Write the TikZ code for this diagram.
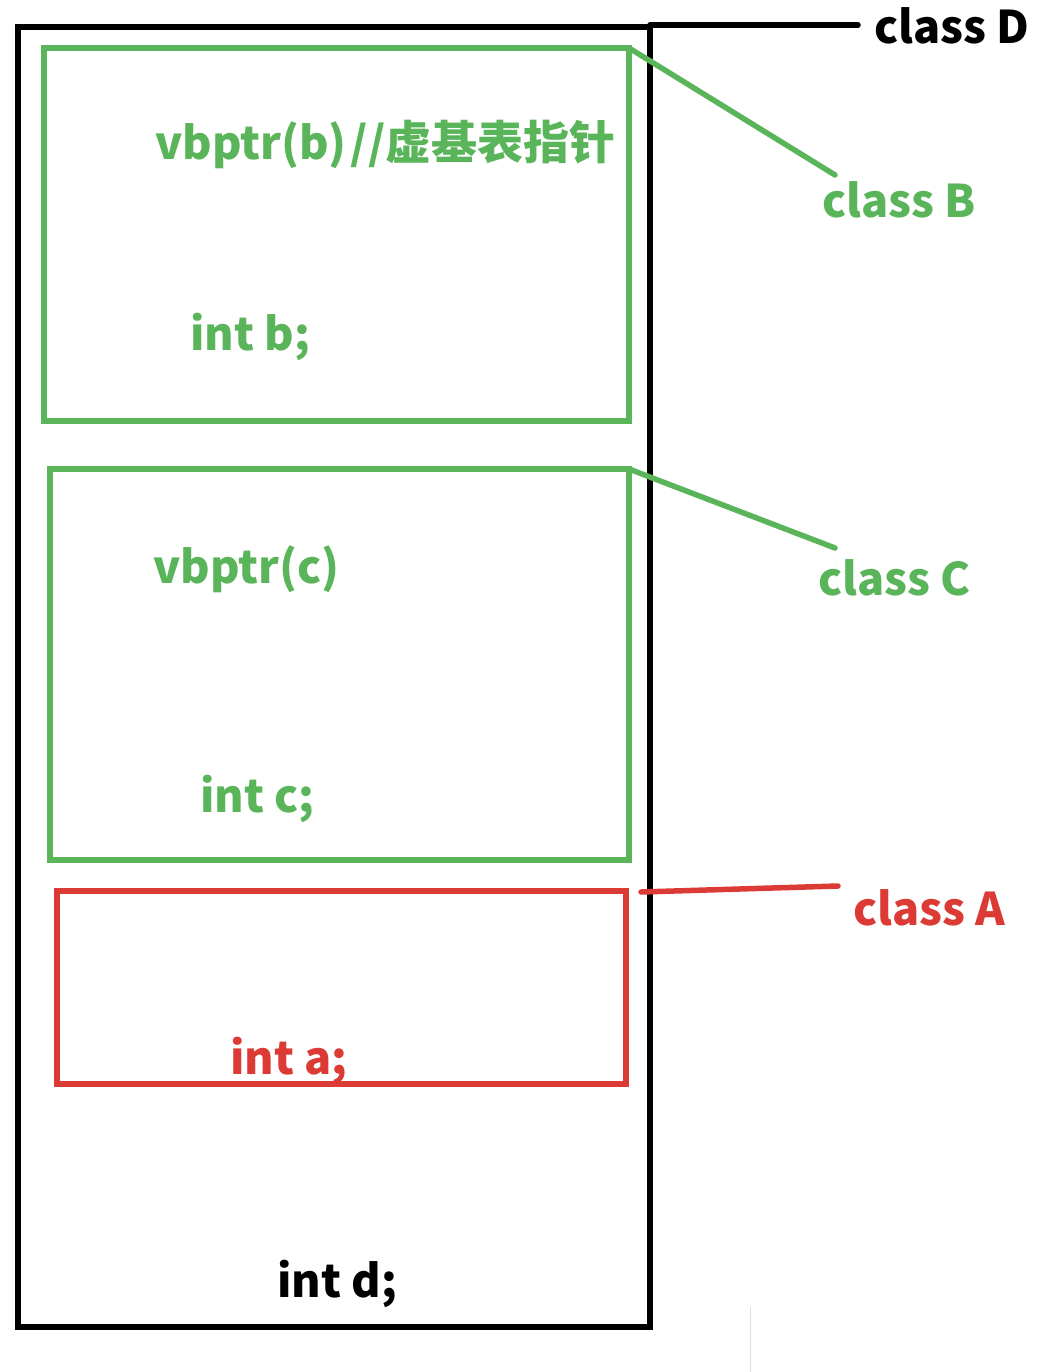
\documentclass[tikz,border=0pt]{standalone}
\usepackage{fontspec}
\setmainfont{Noto Sans CJK SC}
\definecolor{gB}{HTML}{5AB55A}
\definecolor{rA}{HTML}{DC3A34}
\begin{document}
\begin{tikzpicture}[x=1pt,y=-1pt,
  box/.style={draw,line width=5.5pt,outer sep=0pt,inner sep=0pt,anchor=north west},
  lbl/.style={anchor=base west,inner sep=0pt,font=\fontsize{45}{54}\selectfont\bfseries},
  conn/.style={line width=5.5pt,line cap=round}]
\useasboundingbox (0,0) rectangle (1064,1372);
\fill[white] (0,0) rectangle (1064,1372);
% outer class D
\node[box,black,line width=6.5pt,minimum width=632pt,minimum height=1300pt] (D) at (18,27) {};
% class B box
\node[box,gB,minimum width=585pt,minimum height=373pt] (B) at (44,48) {};
% class C box
\node[box,gB,minimum width=579pt,minimum height=391pt] (C) at (50,469) {};
% class A box
\node[box,rA,minimum width=569pt,minimum height=193pt] (A) at (57,891) {};
% inner texts
\node[lbl,gB] (vb) at (155,160) {vbptr(b)\kern4pt//{\fontsize{46}{54}\selectfont 虚基表指针}};
\node[lbl,gB] (ib) at (190,350) {int b;};
\node[lbl,gB] (vc) at (153,583) {vbptr(c)};
\node[lbl,gB] (ic) at (200,812) {int c;};
\node[lbl,rA] (ia) at (230,1074) {int a;};
\node[lbl,black] (id) at (277,1297) {int d;};
% side labels
\node[lbl,black] (lD) at (874,44) {class D};
\node[lbl,gB] (lB) at (822,218) {class B};
\node[lbl,gB] (lC) at (818,595) {class C};
\node[lbl,rA] (lA) at (853,925) {class A};
% connector end points
\coordinate (eD) at (858,25);
\coordinate (eB) at (835,175);
\coordinate (eC) at (835,548);
\coordinate (eA) at (838,886);
\coordinate (sA) at (641,892);
\draw[conn,black] (D.north east) ++(0,-2) -- (eD);
\draw[conn,gB] (B.north east) -- (eB);
\draw[conn,gB] (C.north east) -- (eC);
\draw[conn,rA] (sA) -- (eA);
% faint artifact line
\draw[black!12,line width=1pt] (750,1307) -- (750,1372);
\end{tikzpicture}
\end{document}
